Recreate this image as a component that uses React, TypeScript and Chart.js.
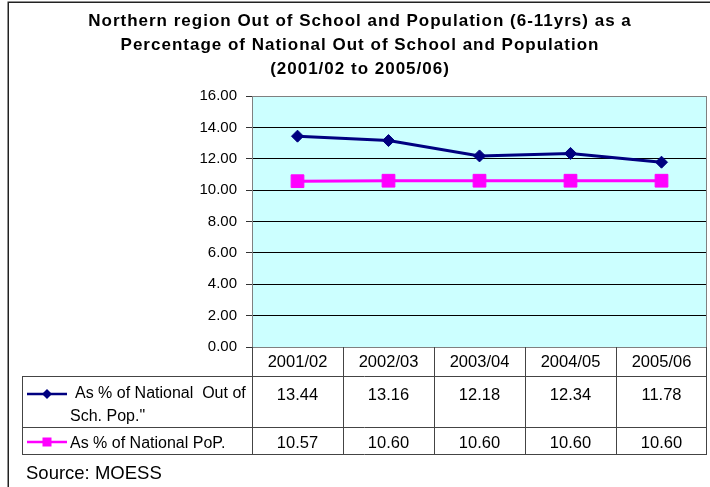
import React, { useEffect, useRef } from 'react';
import { Chart, registerables } from 'chart.js';

Chart.register(...registerables);

const titleLines = [
  'Northern region Out of School and Population (6-11yrs) as a',
  'Percentage of National Out of School and Population',
  '(2001/02 to 2005/06)',
];
const categories = ['2001/02', '2002/03', '2003/04', '2004/05', '2005/06'];
const outOfSchoolPct = [13.44, 13.16, 12.18, 12.34, 11.78];
const nationalPopPct = [10.57, 10.6, 10.6, 10.6, 10.6];
const seriesLabelLines = [['As % of National  Out of', 'Sch. Pop."'], ['As % of National PoP.']];
const sourceNote = 'Source: MOESS';
const yMin = 0;
const yMax = 16;
const yStep = 2;

const NAVY = '#000080';
const MAGENTA = '#FF00FF';
const FONT = "'Liberation Sans', Arial, Helvetica, sans-serif";

const layoutPlugin = {
  id: 'layoutPlugin',
  beforeDraw(chart: any) {
    const { ctx, chartArea: a } = chart;
    ctx.save();
    ctx.fillStyle = '#ffffff';
    ctx.fillRect(0, 0, chart.width, chart.height);
    ctx.fillStyle = '#CCFFFF';
    ctx.fillRect(a.left, a.top, a.right - a.left, a.bottom - a.top);
    // outer frame
    ctx.strokeStyle = '#222222';
    ctx.lineWidth = 1.5;
    ctx.beginPath();
    ctx.moveTo(8.25, chart.height + 5);
    ctx.lineTo(8.25, 2.25);
    ctx.lineTo(chart.width + 5, 2.25);
    ctx.stroke();
    // title
    ctx.fillStyle = '#000000';
    ctx.font = `bold 17px ${FONT}`;
    (ctx as any).letterSpacing = '1px';
    ctx.textAlign = 'center';
    ctx.textBaseline = 'alphabetic';
    titleLines.forEach((line, i) => {
      ctx.fillText(line, 360, 26 + i * 24);
    });
    (ctx as any).letterSpacing = '0px';
    ctx.restore();
  },
  beforeDatasetsDraw(chart: any) {
    const { ctx, chartArea: a } = chart;
    ctx.save();
    ctx.strokeStyle = '#808080';
    ctx.lineWidth = 1;
    ctx.strokeRect(a.left + 0.5, a.top + 0.5, a.right - a.left - 1, a.bottom - a.top);
    ctx.restore();
  },
  afterDraw(chart: any) {
    const { ctx, chartArea: a } = chart;
    const xs = chart.scales.x;
    const n = categories.length;
    const colW = (a.right - a.left) / n;
    const top = a.bottom;
    const r1 = top + 29;
    const r2 = r1 + 51;
    const r3 = r2 + 27;
    const tableLeft = 22;
    ctx.save();
    ctx.strokeStyle = '#444444';
    ctx.lineWidth = 1;
    ctx.beginPath();
    [r1, r2, r3].forEach((y) => {
      ctx.moveTo(tableLeft, y + 0.5);
      ctx.lineTo(a.right, y + 0.5);
    });
    ctx.moveTo(tableLeft + 0.5, r1);
    ctx.lineTo(tableLeft + 0.5, r3 + 1);
    for (let i = 0; i <= n; i++) {
      const x = Math.min(Math.round(a.left + i * colW) + 0.5, a.right - 0.5);
      ctx.moveTo(x, top);
      ctx.lineTo(x, r3 + 1);
    }
    ctx.stroke();

    ctx.fillStyle = '#000000';
    ctx.textAlign = 'center';
    ctx.textBaseline = 'alphabetic';
    ctx.font = `16.5px ${FONT}`;
    categories.forEach((c, i) => {
      const cx = xs.getPixelForValue(i);
      ctx.fillText(c, cx, top + 20);
      ctx.fillText(outOfSchoolPct[i].toFixed(2), cx, r1 + 24);
      ctx.fillText(nationalPopPct[i].toFixed(2), cx, r2 + 21);
    });

    // legend keys
    const kx1 = 27, kx2 = 67, kc = 47;
    const k1y = r1 + 18;
    ctx.strokeStyle = NAVY;
    ctx.lineWidth = 2.5;
    ctx.beginPath();
    ctx.moveTo(kx1, k1y);
    ctx.lineTo(kx2, k1y);
    ctx.stroke();
    ctx.fillStyle = NAVY;
    ctx.beginPath();
    ctx.moveTo(kc - 5, k1y);
    ctx.lineTo(kc, k1y - 5);
    ctx.lineTo(kc + 5, k1y);
    ctx.lineTo(kc, k1y + 5);
    ctx.closePath();
    ctx.fill();

    const k2y = r2 + 15;
    ctx.strokeStyle = MAGENTA;
    ctx.lineWidth = 2.5;
    ctx.beginPath();
    ctx.moveTo(kx1, k2y);
    ctx.lineTo(kx2, k2y);
    ctx.stroke();
    ctx.fillStyle = MAGENTA;
    ctx.fillRect(kc - 4.5, k2y - 4.5, 9, 9);

    ctx.fillStyle = '#000000';
    ctx.textAlign = 'left';
    ctx.font = `16px ${FONT}`;
    ctx.fillText(seriesLabelLines[0][0], 75, r1 + 22);
    ctx.fillText(seriesLabelLines[0][1], 70, r1 + 45);
    ctx.fillText(seriesLabelLines[1][0], 70, r2 + 21);

    ctx.font = `18.5px ${FONT}`;
    ctx.fillText(sourceNote, 26, top + 132);
    ctx.restore();
  },
};

export default function App() {
  const canvasRef = useRef<HTMLCanvasElement | null>(null);

  useEffect(() => {
    const canvas = canvasRef.current;
    if (!canvas) return;
    const chart = new Chart(canvas, {
      type: 'line',
      data: {
        labels: categories,
        datasets: [
          {
            label: seriesLabelLines[0].join(' '),
            data: outOfSchoolPct,
            borderColor: NAVY,
            backgroundColor: NAVY,
            borderWidth: 3,
            pointStyle: 'rectRot',
            pointRadius: 6,
            pointBorderWidth: 1,
            pointBackgroundColor: NAVY,
            pointBorderColor: NAVY,
            tension: 0,
          },
          {
            label: seriesLabelLines[1].join(' '),
            data: nationalPopPct,
            borderColor: MAGENTA,
            backgroundColor: MAGENTA,
            borderWidth: 3,
            pointStyle: 'rect',
            pointRadius: 9,
            pointBorderWidth: 1,
            pointBackgroundColor: MAGENTA,
            pointBorderColor: MAGENTA,
            tension: 0,
          },
        ],
      },
      options: {
        responsive: false,
        animation: false,
        devicePixelRatio: 1,
        layout: { autoPadding: false, padding: { top: 96, right: 3, left: 0, bottom: 0 } },
        plugins: {
          legend: { display: false },
          title: { display: false },
          tooltip: { enabled: false },
        },
        scales: {
          x: {
            type: 'category',
            offset: true,
            grid: { display: false },
            border: { display: false },
            ticks: { display: false },
            afterFit: (scale: any) => {
              scale.height = 140;
            },
          },
          y: {
            min: yMin,
            max: yMax,
            ticks: {
              stepSize: yStep,
              color: '#000000',
              padding: 9,
              font: { family: FONT, size: 15 },
              callback: (v: any) => Number(v).toFixed(2),
            },
            grid: {
              color: (c: any) =>
                c.tick && (c.tick.value === yMin || c.tick.value === yMax) ? '#808080' : '#000000',
              tickColor: '#333333',
              tickLength: 6,
              lineWidth: 1,
            },
            border: { color: '#808080', width: 1 },
            afterFit: (scale: any) => {
              scale.width = 252;
            },
          },
        },
      },
      plugins: [layoutPlugin],
    });
    return () => chart.destroy();
  }, []);

  return (
    <div style={{ position: 'absolute', left: 0, top: 0, width: 710, height: 487 }}>
      <canvas ref={canvasRef} width={710} height={487} style={{ display: 'block' }} />
    </div>
  );
}
